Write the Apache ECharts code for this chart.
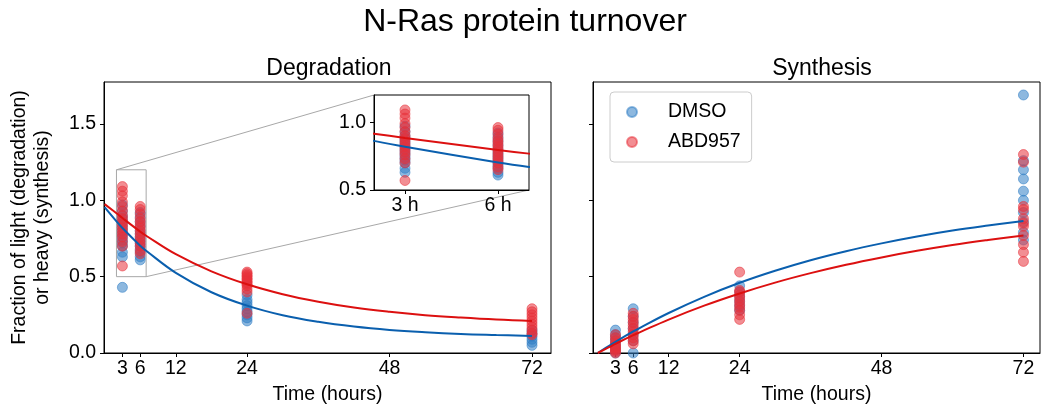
<!DOCTYPE html>
<html><head><meta charset="utf-8">
<script src="https://cdn.jsdelivr.net/npm/echarts@6/dist/echarts.min.js"></script>
<style>html,body{margin:0;padding:0;background:#fff}#c{width:1050px;height:411px}</style>
</head><body><div id="c"></div>
<script>
// ---- data ----
const xTicks = [3, 6, 12, 24, 48, 72];
const yTicks = [0, 0.5, 1.0, 1.5];
const insetXTicks = [3, 6];
const insetYTicks = [0.5, 1.0];
const sampleTimes = [3, 6, 24, 72];

const degDMSO = [
  [0.43, 0.63, 0.66, 0.70, 0.72, 0.74, 0.76, 0.78, 0.80, 0.82, 0.84, 0.86, 0.88, 0.90, 0.93, 0.97],
  [0.61, 0.63, 0.66, 0.68, 0.70, 0.72, 0.74, 0.76, 0.78, 0.80, 0.83, 0.86, 0.89, 0.92],
  [0.21, 0.23, 0.25, 0.27, 0.29, 0.31, 0.33, 0.35, 0.38],
  [0.05, 0.07, 0.09, 0.11, 0.13, 0.15]
];
const degABD = [
  [0.57, 0.70, 0.73, 0.76, 0.78, 0.80, 0.82, 0.84, 0.86, 0.88, 0.90, 0.93, 0.96, 0.99, 1.03, 1.06, 1.09],
  [0.65, 0.67, 0.70, 0.72, 0.74, 0.76, 0.78, 0.80, 0.82, 0.84, 0.86, 0.88, 0.91, 0.94, 0.96],
  [0.26, 0.40, 0.42, 0.44, 0.45, 0.46, 0.47, 0.48, 0.49, 0.50, 0.51, 0.52, 0.53],
  [0.12, 0.13, 0.15, 0.17, 0.19, 0.21, 0.23, 0.25, 0.27, 0.29]
];
const synDMSO = [
  [0.0, 0.02, 0.04, 0.06, 0.08, 0.10, 0.12, 0.15],
  [0.0, 0.08, 0.12, 0.16, 0.20, 0.24, 0.29],
  [0.28, 0.31, 0.34, 0.37, 0.40, 0.44],
  [0.74, 0.79, 0.86, 0.92, 1.00, 1.06, 1.14, 1.20, 1.26, 1.69]
];
const synABD = [
  [0.0, 0.01, 0.02, 0.03, 0.04, 0.05, 0.06, 0.08, 0.10, 0.12],
  [0.06, 0.08, 0.10, 0.12, 0.14, 0.16, 0.18, 0.20, 0.22, 0.24, 0.26],
  [0.22, 0.25, 0.28, 0.30, 0.32, 0.34, 0.36, 0.38, 0.40, 0.41, 0.53],
  [0.60, 0.66, 0.71, 0.77, 0.83, 0.85, 0.88, 0.94, 0.96, 1.25, 1.30]
];

const curveT     = [0, 2, 3, 6, 7, 12, 18, 24, 30, 36, 42, 48, 54, 60, 66, 72];
const degFitDMSO = [0.955, 0.862, 0.819, 0.703, 0.67, 0.525, 0.398, 0.31, 0.247, 0.204, 0.173, 0.151, 0.136, 0.125, 0.118, 0.112];
const degFitABD  = [0.975, 0.915, 0.884, 0.795, 0.768, 0.647, 0.535, 0.45, 0.385, 0.336, 0.298, 0.27, 0.248, 0.232, 0.219, 0.21];
const synFitDMSO = [0.0, 0.049, 0.073, 0.141, 0.162, 0.262, 0.368, 0.46, 0.539, 0.608, 0.667, 0.718, 0.763, 0.802, 0.835, 0.865];
const synFitABD  = [0.0, 0.040, 0.060, 0.117, 0.134, 0.219, 0.310, 0.39, 0.461, 0.523, 0.578, 0.626, 0.669, 0.707, 0.740, 0.770];

// ---- styles ----
const FONT = "'Liberation Sans', Arial, sans-serif";
const FS = 19.5;
const BLUE_PT = '#2f7ec4', RED_PT = '#e8323a';
const BLUE_LN = '#0a5fae', RED_LN = '#dc1010';

function pts(groups) {
  const out = [];
  groups.forEach((g, i) => g.forEach(v => out.push([sampleTimes[i], v])));
  return out;
}
function curve(vals) { return curveT.map((t, i) => [t, vals[i]]); }

function scatter(name, groups, color, idx) {
  return {
    type: 'scatter', name, xAxisIndex: idx, yAxisIndex: idx, data: pts(groups),
    symbolSize: 10, clip: true, z: 3,
    itemStyle: { color, opacity: 0.55, borderColor: color, borderWidth: 1 },
    emphasis: { disabled: true }
  };
}
function line(name, vals, color, idx) {
  return {
    type: 'line', name, xAxisIndex: idx, yAxisIndex: idx, data: curve(vals),
    smooth: 0.4, symbol: 'none', clip: true, z: 4,
    lineStyle: { color, width: 2 }, emphasis: { disabled: true }
  };
}

const axisCommon = {
  axisLine: { show: true, onZero: false, lineStyle: { color: '#000', width: 1 } },
  axisTick: { show: true, inside: false, length: 4, lineStyle: { color: '#000' } },
  splitLine: { show: false },
  axisLabel: { color: '#000', fontSize: FS, fontFamily: FONT, margin: 6 },
  nameTextStyle: { color: '#000', fontSize: FS, fontFamily: FONT }
};
function xAx(grid, min, max, ticks, fmt, name) {
  return Object.assign({}, axisCommon, {
    type: 'value', gridIndex: grid, min, max,
    name: name || '', nameLocation: 'middle', nameGap: 32,
    axisTick: Object.assign({}, axisCommon.axisTick, { customValues: ticks }),
    axisLabel: Object.assign({}, axisCommon.axisLabel, { customValues: ticks, formatter: fmt }),
  });
}
function yAx(grid, min, max, ticks, showLabel, name) {
  return Object.assign({}, axisCommon, {
    type: 'value', gridIndex: grid, min, max,
    name: name || '', nameLocation: 'middle', nameGap: 50, nameRotate: 90,
    nameTextStyle: Object.assign({}, axisCommon.nameTextStyle, { lineHeight: 23 }),
    axisTick: Object.assign({}, axisCommon.axisTick, { customValues: ticks }),
    axisLabel: Object.assign({}, axisCommon.axisLabel, { show: showLabel, margin: 8, customValues: ticks, formatter: v => v.toFixed(1) })
  });
}

const chart = echarts.init(document.getElementById('c'), null, { renderer: 'canvas' });
chart.setOption({
  animation: false,
  backgroundColor: '#fff',
  title: [
    { text: 'N-Ras protein turnover', left: 'center', top: 1, textStyle: { fontSize: 32, fontWeight: 'normal', color: '#000', fontFamily: FONT } },
    { text: 'Degradation', left: 324, textAlign: 'center', top: 52, textStyle: { fontSize: 23, fontWeight: 'normal', color: '#000', fontFamily: FONT } },
    { text: 'Synthesis', left: 817, textAlign: 'center', top: 52, textStyle: { fontSize: 23, fontWeight: 'normal', color: '#000', fontFamily: FONT } }
  ],
  grid: [
    { left: 104, top: 82, width: 447, height: 271, show: true, borderColor: '#000', borderWidth: 1, backgroundColor: 'transparent' },
    { left: 593, top: 82, width: 447, height: 271, show: true, borderColor: '#000', borderWidth: 1, backgroundColor: 'transparent' },
    { left: 374, top: 95, width: 155, height: 95, show: true, borderColor: '#000', borderWidth: 1, backgroundColor: '#fff', z: 5 }
  ],
  xAxis: [
    xAx(0, -0.1, 75.2, xTicks, v => String(v), 'Time (hours)'),
    xAx(1, -0.8, 74.8, xTicks, v => String(v), 'Time (hours)'),
    Object.assign(xAx(2, 2, 7, insetXTicks, v => v + ' h'), { z: 6 })
  ],
  yAxis: [
    yAx(0, 0, 1.775, yTicks, true, 'Fraction of light (degradation)\nor heavy (synthesis)'),
    yAx(1, 0, 1.775, yTicks, false),
    Object.assign(yAx(2, 0.5, 1.2, insetYTicks, true), { z: 6 })
  ],
  legend: {
    left: 610, top: 92, orient: 'vertical', itemWidth: 30, itemHeight: 10, itemGap: 10,
    padding: [10, 11, 10, 16], borderColor: '#cccccc', borderWidth: 1, borderRadius: 4, backgroundColor: '#fff',
    textStyle: { fontSize: FS, fontFamily: FONT, color: '#000', padding: [0, 0, 0, 16] },
    data: [{ name: 'DMSO', icon: 'circle' }, { name: 'ABD957', icon: 'circle' }],
    selectedMode: false
  },
  series: [
    scatter('DMSO', degDMSO, BLUE_PT, 0),
    scatter('ABD957', degABD, RED_PT, 0),
    line('DMSO fit', degFitDMSO, BLUE_LN, 0),
    line('ABD957 fit', degFitABD, RED_LN, 0),
    scatter('DMSO', synDMSO, BLUE_PT, 1),
    scatter('ABD957', synABD, RED_PT, 1),
    line('DMSO fit', synFitDMSO, BLUE_LN, 1),
    line('ABD957 fit', synFitABD, RED_LN, 1),
    Object.assign(scatter('DMSO', degDMSO, BLUE_PT, 2), { z: 7 }),
    Object.assign(scatter('ABD957', degABD, RED_PT, 2), { z: 7 }),
    Object.assign(line('DMSO fit', degFitDMSO, BLUE_LN, 2), { z: 8 }),
    Object.assign(line('ABD957 fit', degFitABD, RED_LN, 2), { z: 8 })
  ]
});

// zoom indicator rectangle + connectors, positioned through the axes
const rTL = chart.convertToPixel({ gridIndex: 0 }, [2, 1.2]);
const rBR = chart.convertToPixel({ gridIndex: 0 }, [7, 0.5]);
const iTL = chart.convertToPixel({ gridIndex: 2 }, [2, 1.2]);
const iBR = chart.convertToPixel({ gridIndex: 2 }, [7, 0.5]);
const gray = { stroke: '#a8a8a8', lineWidth: 1, fill: null };
chart.setOption({
  graphic: [
    { type: 'rect', z: 1, shape: { x: rTL[0], y: rTL[1], width: rBR[0] - rTL[0], height: rBR[1] - rTL[1] }, style: gray, silent: true },
    { type: 'line', z: 1, shape: { x1: rTL[0], y1: rTL[1], x2: iTL[0], y2: iTL[1] }, style: gray, silent: true },
    { type: 'line', z: 1, shape: { x1: rBR[0], y1: rBR[1], x2: iBR[0], y2: iBR[1] }, style: gray, silent: true }
  ]
});
</script></body></html>
